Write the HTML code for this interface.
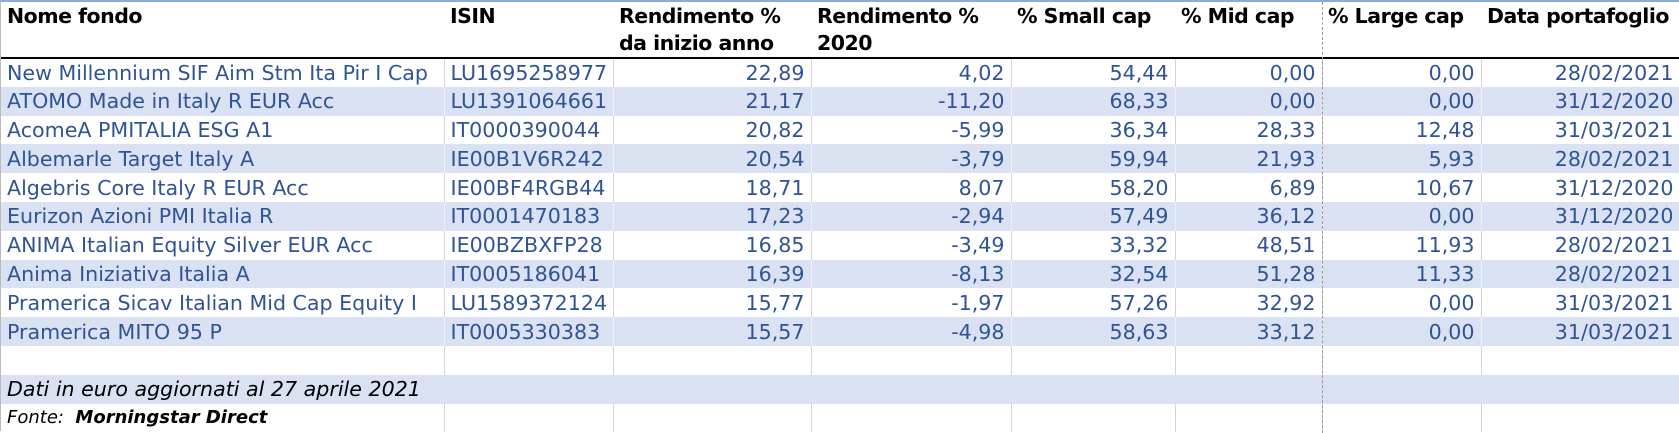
<!DOCTYPE html>
<html><head><meta charset="utf-8"><style>
body{margin:0;width:1679px;height:431px;overflow:hidden;background:#fff;font-family:"DejaVu Sans","Liberation Sans",sans-serif;}
.wrap{position:relative;width:1679px;height:431px;border-top:2px solid #8ea9db;box-sizing:border-box;border-left:1px solid #bbb;}
table{border-collapse:collapse;table-layout:fixed;width:1679px;position:absolute;top:0;left:0;}
td{padding:0 6px;white-space:nowrap;overflow:hidden;font-size:20.6px;color:#2f5496;height:28.8px;box-sizing:border-box;border-right:1px solid #d4d4d4;text-align:right;}
td.l{text-align:left;}
tr.s td{background:#d9e1f2;border-right-color:#eef2fa;}
tr.h td{font-weight:bold;color:#000;vertical-align:top;height:56px;border-bottom:2px solid #000;border-right:none;text-align:left;line-height:27px;padding-top:1px;font-size:20.5px;letter-spacing:-0.5px}
tr.n td{border-right-color:transparent;color:#000;font-style:italic}
.dash{position:absolute;left:1321px;top:0;height:431px;border-left:1px dashed #999;}
</style></head><body><div class="wrap">
<table>
<colgroup><col style="width:443px"><col style="width:169px"><col style="width:198px"><col style="width:200px"><col style="width:164px"><col style="width:147px"><col style="width:159px"><col style="width:199px"></colgroup>
<tr class="h"><td>Nome fondo</td><td>ISIN</td><td>Rendimento %<br>da inizio anno</td><td>Rendimento %<br>2020</td><td>% Small cap</td><td>% Mid cap</td><td>% Large cap</td><td>Data portafoglio</td></tr>
<tr><td class="l">New Millennium SIF Aim Stm Ita Pir I Cap</td><td class="l">LU1695258977</td><td>22,89</td><td>4,02</td><td>54,44</td><td>0,00</td><td>0,00</td><td>28/02/2021</td></tr>
<tr class="s"><td class="l">ATOMO Made in Italy R EUR Acc</td><td class="l">LU1391064661</td><td>21,17</td><td>-11,20</td><td>68,33</td><td>0,00</td><td>0,00</td><td>31/12/2020</td></tr>
<tr><td class="l">AcomeA PMITALIA ESG A1</td><td class="l">IT0000390044</td><td>20,82</td><td>-5,99</td><td>36,34</td><td>28,33</td><td>12,48</td><td>31/03/2021</td></tr>
<tr class="s"><td class="l">Albemarle Target Italy A</td><td class="l">IE00B1V6R242</td><td>20,54</td><td>-3,79</td><td>59,94</td><td>21,93</td><td>5,93</td><td>28/02/2021</td></tr>
<tr><td class="l">Algebris Core Italy R EUR Acc</td><td class="l">IE00BF4RGB44</td><td>18,71</td><td>8,07</td><td>58,20</td><td>6,89</td><td>10,67</td><td>31/12/2020</td></tr>
<tr class="s"><td class="l">Eurizon Azioni PMI Italia R</td><td class="l">IT0001470183</td><td>17,23</td><td>-2,94</td><td>57,49</td><td>36,12</td><td>0,00</td><td>31/12/2020</td></tr>
<tr><td class="l">ANIMA Italian Equity Silver EUR Acc</td><td class="l">IE00BZBXFP28</td><td>16,85</td><td>-3,49</td><td>33,32</td><td>48,51</td><td>11,93</td><td>28/02/2021</td></tr>
<tr class="s"><td class="l">Anima Iniziativa Italia A</td><td class="l">IT0005186041</td><td>16,39</td><td>-8,13</td><td>32,54</td><td>51,28</td><td>11,33</td><td>28/02/2021</td></tr>
<tr><td class="l">Pramerica Sicav Italian Mid Cap Equity I</td><td class="l">LU1589372124</td><td>15,77</td><td>-1,97</td><td>57,26</td><td>32,92</td><td>0,00</td><td>31/03/2021</td></tr>
<tr class="s"><td class="l">Pramerica MITO 95 P</td><td class="l">IT0005330383</td><td>15,57</td><td>-4,98</td><td>58,63</td><td>33,12</td><td>0,00</td><td>31/03/2021</td></tr>
<tr><td></td><td></td><td></td><td></td><td></td><td></td><td></td><td></td></tr>
<tr class="s n"><td class="l" colspan="8" style="text-align:left">Dati in euro aggiornati al 27 aprile 2021</td></tr>
<tr><td class="l" style="color:#000;font-style:italic;font-size:18px">Fonte:&nbsp; <b>Morningstar Direct</b></td><td></td><td></td><td></td><td></td><td></td><td></td><td></td></tr>
</table>
<div class="dash"></div>
</div></body></html>
